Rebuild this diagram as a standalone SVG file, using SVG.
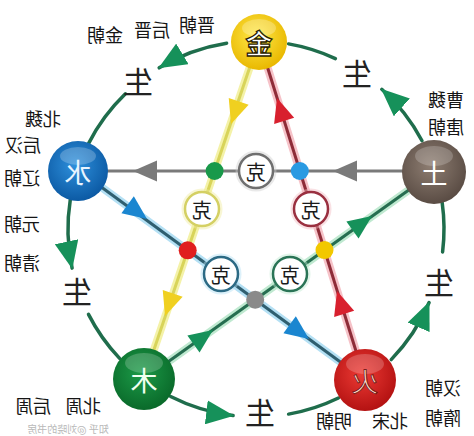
<svg xmlns="http://www.w3.org/2000/svg" width="474" height="436" viewBox="0 0 474 436">
<style>
  text { font-family: "Noto Sans CJK SC", "Noto Sans", sans-serif; text-anchor: middle; dominant-baseline: central; }
  .dyn { font-size: 18px; fill: #151515; }
  .sheng { font-size: 30px; fill: #222; }
  .ke { font-size: 20px; fill: #1a1a1a; }
  .node { font-size: 27px; }
  .arc { fill: none; stroke: #1f6d4c; stroke-width: 3.5; stroke-linecap: round; }
  .glow { fill: none; stroke-width: 8; stroke-linecap: round; }
  .ln { fill: none; stroke-width: 3; }
  .ring { fill: #fff; stroke-width: 2.5; }
  .halo { stroke-width: 7; fill: none; opacity: 0.45; }
</style>
<defs>
  <marker id="ga" markerUnits="userSpaceOnUse" markerWidth="28" markerHeight="24" viewBox="0 0 28 24" refX="27" refY="12" orient="auto">
    <path d="M0,0 L28,12 L0,24 z" fill="#16915a"/>
  </marker>
  <path id="tri" d="M0,0 L-24,-10.5 L-24,10.5 z"/>
  <radialGradient id="gJin" cx="0.45" cy="0.4" r="0.6"><stop offset="0" stop-color="#ffe94a"/><stop offset="1" stop-color="#e9b800"/></radialGradient>
  <radialGradient id="gShui" cx="0.45" cy="0.4" r="0.6"><stop offset="0" stop-color="#2e90dc"/><stop offset="1" stop-color="#0c5aa4"/></radialGradient>
  <radialGradient id="gTu" cx="0.45" cy="0.4" r="0.6"><stop offset="0" stop-color="#8e7e72"/><stop offset="1" stop-color="#5a4c44"/></radialGradient>
  <radialGradient id="gMu" cx="0.45" cy="0.4" r="0.6"><stop offset="0" stop-color="#1c9a48"/><stop offset="1" stop-color="#0a6a2a"/></radialGradient>
  <radialGradient id="gHuo" cx="0.45" cy="0.4" r="0.6"><stop offset="0" stop-color="#ec3a34"/><stop offset="1" stop-color="#b41212"/></radialGradient>
</defs>
<rect width="474" height="436" fill="#fff"/>

<g id="connectors">
  <!-- outer generating cycle -->
  <path class="arc" d="M226.6,43.3 A188,188 0 0 0 159.2,67.8" marker-end="url(#ga)"/>
  <path class="arc" d="M125.4,93.8 A188,188 0 0 0 88.5,143.6"/>
  <path class="arc" d="M70.3,199.6 A188,188 0 0 0 72.1,268.1" marker-end="url(#ga)"/>
  <path class="arc" d="M88.5,314.4 A188,188 0 0 0 119.6,358.4"/>
  <path class="arc" d="M170.6,396.5 A188,188 0 0 0 233.1,415.6" marker-end="url(#ga)"/>
  <path class="arc" d="M288.6,414.1 A188,188 0 0 0 338.4,398.0"/>
  <path class="arc" d="M391.2,359.6 A188,188 0 0 0 429.1,302.5" marker-end="url(#ga)"/>
  <path class="arc" d="M442.6,251.9 A188,188 0 0 0 442.2,202.8"/>
  <path class="arc" d="M422.0,140.7 A188,188 0 0 0 381.8,89.3" marker-end="url(#ga)"/>
  <path class="arc" d="M335.4,58.6 A188,188 0 0 0 288.6,43.9"/>

  <!-- inner overcoming star: glows -->
  <line class="glow" x1="259" y1="40" x2="144" y2="379" stroke="#f4f2a8"/>
  <line class="glow" x1="365" y1="380" x2="259" y2="40" stroke="#f6c2c8"/>
  <line class="glow" x1="78" y1="170" x2="365" y2="380" stroke="#b4e0f4"/>
  <line class="glow" x1="144" y1="379" x2="434" y2="172" stroke="#bfe9d0"/>
  <!-- inner lines -->
  <line class="ln" x1="404" y1="171" x2="106" y2="171" stroke="#7a7a7a"/>
  <line class="ln" x1="259" y1="40" x2="144" y2="379" stroke="#d8d45a"/>
  <line class="ln" x1="365" y1="380" x2="259" y2="40" stroke="#8e2c38"/>
  <line class="ln" x1="78" y1="170" x2="365" y2="380" stroke="#2f5f70"/>
  <line class="ln" x1="144" y1="379" x2="434" y2="172" stroke="#266e50"/>

  <!-- inner arrowheads -->
  <use href="#tri" fill="#7a7a7a" transform="translate(133,171) rotate(180)"/>
  <use href="#tri" fill="#7a7a7a" transform="translate(333,171) rotate(180)"/>
  <use href="#tri" fill="#f0d020" transform="translate(231,124) rotate(108.7)"/>
  <use href="#tri" fill="#f0d020" transform="translate(165,316) rotate(108.7)"/>
  <use href="#tri" fill="#d8202e" transform="translate(277,98) rotate(-107.3)"/>
  <use href="#tri" fill="#d8202e" transform="translate(337,291) rotate(-107.3)"/>
  <use href="#tri" fill="#1a86d0" transform="translate(147,219) rotate(36.2)"/>
  <use href="#tri" fill="#1a86d0" transform="translate(309,339) rotate(36.2)"/>
  <use href="#tri" fill="#16915a" transform="translate(213,330) rotate(-35.5)"/>
  <use href="#tri" fill="#16915a" transform="translate(372,216) rotate(-35.5)"/>

  <!-- intersection dots -->
  <circle cx="214.6" cy="171" r="9" fill="#19994a"/>
  <circle cx="299.8" cy="171" r="9" fill="#2a9ae2"/>
  <circle cx="187.7" cy="250.3" r="9" fill="#e01e1e"/>
  <circle cx="255.2" cy="299.7" r="9" fill="#8a8a8a"/>
  <circle cx="324.5" cy="250.1" r="9" fill="#f2c800"/>
</g>

<g id="ke-gray">
  <circle class="halo" cx="256" cy="171" r="17" stroke="#cfcfcf"/>
  <circle class="ring" cx="256" cy="171" r="17" stroke="#6f6f6f"/>
  <text class="ke" transform="translate(256,171) scale(-1,1)">克</text>
</g>
<g id="ke-yellow">
  <circle class="halo" cx="202" cy="209" r="17" stroke="#efeaa0"/>
  <circle class="ring" cx="202" cy="209" r="17" stroke="#d4d064"/>
  <text class="ke" transform="translate(202,209) scale(-1,1)">克</text>
</g>
<g id="ke-red">
  <circle class="halo" cx="311" cy="209" r="17" stroke="#f2bcc4"/>
  <circle class="ring" cx="311" cy="209" r="17" stroke="#9a3040"/>
  <text class="ke" transform="translate(311,209) scale(-1,1)">克</text>
</g>
<g id="ke-blue">
  <circle class="halo" cx="221" cy="274" r="17" stroke="#b4e0f4"/>
  <circle class="ring" cx="221" cy="274" r="17" stroke="#2c6a84"/>
  <text class="ke" transform="translate(221,274) scale(-1,1)">克</text>
</g>
<g id="ke-green">
  <circle class="halo" cx="290" cy="274" r="17" stroke="#bfe9d0"/>
  <circle class="ring" cx="290" cy="274" r="17" stroke="#2a7456"/>
  <text class="ke" transform="translate(290,274) scale(-1,1)">克</text>
</g>

<g id="node-jin">
  <circle cx="259" cy="42" r="28" fill="url(#gJin)"/>
  <ellipse cx="259" cy="28" rx="17" ry="9" fill="#fff" opacity="0.25"/>
  <text class="node" transform="translate(259,42) scale(-1,1)" fill="#fff" stroke="#2a2200" stroke-width="1.3" font-weight="bold">金</text>
</g>
<g id="node-shui">
  <circle cx="78" cy="171" r="30" fill="url(#gShui)"/>
  <ellipse cx="78" cy="156" rx="18" ry="9" fill="#fff" opacity="0.22"/>
  <text class="node" transform="translate(78,171) scale(-1,1)" fill="#e8f4ff">水</text>
</g>
<g id="node-tu">
  <circle cx="434" cy="172" r="32" fill="url(#gTu)"/>
  <ellipse cx="434" cy="156" rx="19" ry="10" fill="#fff" opacity="0.2"/>
  <text class="node" transform="translate(434,172) scale(-1,1)" fill="#fff">土</text>
</g>
<g id="node-mu">
  <circle cx="144" cy="379" r="31" fill="url(#gMu)"/>
  <ellipse cx="144" cy="363" rx="19" ry="10" fill="#fff" opacity="0.2"/>
  <text class="node" transform="translate(144,379) scale(-1,1)" fill="#f0fff0">木</text>
</g>
<g id="node-huo">
  <circle cx="365" cy="380" r="31" fill="url(#gHuo)"/>
  <ellipse cx="365" cy="364" rx="19" ry="10" fill="#fff" opacity="0.2"/>
  <text class="node" transform="translate(365,380) scale(-1,1)" fill="#ffd8c8" stroke="#6a1010" stroke-width="0.8">火</text>
</g>

<g id="labels-sheng">
  <text class="sheng" transform="translate(138,80) scale(-1,1)">生</text>
  <text class="sheng" transform="translate(357,72) scale(-1,1)">生</text>
  <text class="sheng" transform="translate(77,290) scale(-1,1)">生</text>
  <text class="sheng" transform="translate(439,281) scale(-1,1)">生</text>
  <text class="sheng" transform="translate(260,411) scale(-1,1)">生</text>
</g>

<g id="labels-dynasty">
  <text class="dyn" transform="translate(197,24) scale(-1,1)">晋朝</text>
  <text class="dyn" transform="translate(152,29) scale(-1,1)">后晋</text>
  <text class="dyn" transform="translate(105,34) scale(-1,1)">金朝</text>
  <text class="dyn" transform="translate(43,118) scale(-1,1)">北魏</text>
  <text class="dyn" transform="translate(23,144) scale(-1,1)">后汉</text>
  <text class="dyn" transform="translate(22,177) scale(-1,1)">辽朝</text>
  <text class="dyn" transform="translate(22,223) scale(-1,1)">元朝</text>
  <text class="dyn" transform="translate(22,262) scale(-1,1)">清朝</text>
  <text class="dyn" transform="translate(446,99) scale(-1,1)">曹魏</text>
  <text class="dyn" transform="translate(446,126) scale(-1,1)">唐朝</text>
  <text class="dyn" transform="translate(33,405) scale(-1,1)">后周</text>
  <text class="dyn" transform="translate(83,405) scale(-1,1)">北周</text>
  <text class="dyn" transform="translate(443,387) scale(-1,1)">汉朝</text>
  <text class="dyn" transform="translate(443,417) scale(-1,1)">隋朝</text>
  <text class="dyn" transform="translate(334,420) scale(-1,1)">明朝</text>
  <text class="dyn" transform="translate(390,420) scale(-1,1)">北宋</text>
  <text transform="translate(68,428) scale(-1,1)" font-size="10" fill="#b8b8b8">知乎 @刘晓的书房</text>
</g>
</svg>
